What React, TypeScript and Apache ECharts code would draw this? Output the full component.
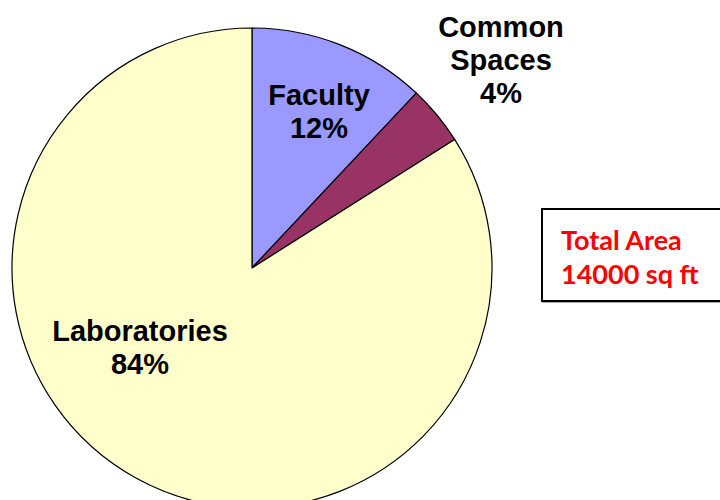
import React, { useEffect, useRef } from "react";
import * as echarts from "echarts";

const categories = ["Faculty", "Common\nSpaces", "Laboratories"];
const values = [12, 4, 84];
const colors = ["#9999FF", "#993366", "#FFFFCC"];
const totalLabel = ["Total Area", "14000 sq ft"];
const labelCenters = [
  [319, 111],
  [501, 60],
  [140, 347],
];

export default function App() {
  const ref = useRef<HTMLDivElement>(null);
  useEffect(() => {
    if (!ref.current) return;
    const chart = echarts.init(ref.current, null, { renderer: "svg" });
    chart.setOption({
      animation: false,
      backgroundColor: "#ffffff",
      series: [
        {
          type: "pie",
          center: [252, 268],
          radius: 240,
          startAngle: 90,
          clockwise: true,
          avoidLabelOverlap: false,
          itemStyle: { borderColor: "#000000", borderWidth: 1.2 },
          label: {
            show: true,
            position: "inside",
            formatter: "{b}\n{c}%",
            fontFamily: "Liberation Sans, Arial, sans-serif",
            fontWeight: "bold",
            fontSize: 29,
            lineHeight: 33,
            color: "#000000",
            align: "center",
          },
          labelLine: { show: false },
          labelLayout: (p: any) => {
            const c = labelCenters[p.dataIndex];
            return { x: c[0], y: c[1], align: "center", verticalAlign: "middle" };
          },
          data: categories.map((n, i) => ({
            name: n,
            value: values[i],
            itemStyle: { color: colors[i] },
          })),
        },
      ],
      graphic: [
        {
          type: "rect",
          shape: { x: 542, y: 209, width: 200, height: 92 },
          style: { fill: "#ffffff", stroke: "#000000", lineWidth: 2, shadowColor: "rgba(0,0,0,0.35)", shadowOffsetX: 1, shadowOffsetY: 1, shadowBlur: 0 },
        },
        {
          type: "text",
          x: 561,
          y: 222,
          style: {
            text: totalLabel.join("\n"),
            fill: "#FF0000",
            fontFamily: "Lato, sans-serif",
            fontWeight: "bold",
            fontSize: 27,
            lineHeight: 34,
          },
        },
      ],
    });
    return () => chart.dispose();
  }, []);
  return <div ref={ref} style={{ width: 720, height: 500, position: "absolute", left: 0, top: 0 }} />;
}
